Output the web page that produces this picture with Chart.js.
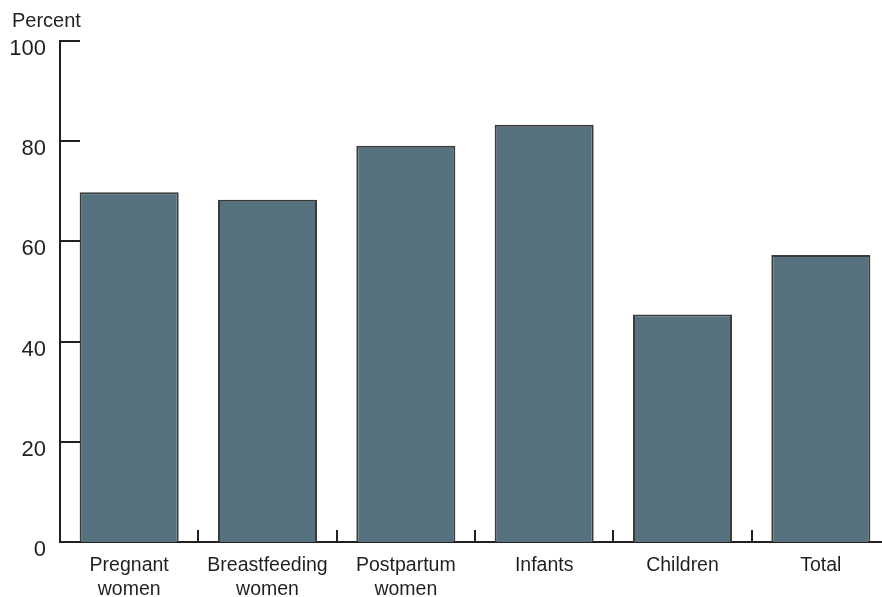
<!DOCTYPE html>
<html>
<head>
<meta charset="utf-8">
<script src="https://cdn.jsdelivr.net/npm/chart.js@4.4.1/dist/chart.umd.min.js"></script>
<style>
  html, body { margin: 0; padding: 0; background: #fff; overflow: hidden; }
  #wrap { width: 890px; height: 597px; }
</style>
</head>
<body>
<div id="wrap"><canvas id="chart"></canvas></div>
<script>
// data
const categories = [
  ['Pregnant', 'women'],
  ['Breastfeeding', 'women'],
  ['Postpartum', 'women'],
  ['Infants'],
  ['Children'],
  ['Total']
];
const percents = [69.8, 68.3, 79.1, 83.3, 45.4, 57.3];
const yTicks = [0, 20, 40, 60, 80, 100];

const inkColor = '#231f20';

// inward tick marks + "Percent" title
const axisExtras = {
  id: 'axisExtras',
  afterDraw(chart) {
    const { ctx, chartArea, scales } = chart;
    const x = scales.x, y = scales.y;
    ctx.save();
    ctx.strokeStyle = inkColor;
    ctx.lineWidth = 2;
    ctx.beginPath();
    yTicks.forEach(v => {
      const py = Math.round(y.getPixelForValue(v));
      ctx.moveTo(chartArea.left, py);
      ctx.lineTo(chartArea.left + 20, py);
    });
    const half = (x.getPixelForValue(1) - x.getPixelForValue(0)) / 2;
    for (let i = 0; i < categories.length - 1; i++) {
      const px = Math.round(x.getPixelForValue(i) + half);
      ctx.moveTo(px, chartArea.bottom);
      ctx.lineTo(px, chartArea.bottom - 12);
    }
    ctx.stroke();

    ctx.fillStyle = inkColor;
    ctx.font = '20px "Liberation Sans", Arial, sans-serif';
    ctx.textAlign = 'left';
    ctx.textBaseline = 'alphabetic';
    ctx.fillText('Percent', 12, 27);
    ctx.restore();
  }
};

new Chart(document.getElementById('chart'), {
  type: 'bar',
  data: {
    labels: categories,
    datasets: [{
      data: percents,
      backgroundColor: '#57727f',
      borderColor: '#393b3d',
      borderWidth: 2,
      borderSkipped: 'bottom',
      barPercentage: 0.716,
      categoryPercentage: 1
    }]
  },
  options: {
    responsive: true,
    maintainAspectRatio: false,
    animation: false,
    layout: { padding: { top: 41, right: 0, bottom: 0, left: 0 } },
    plugins: {
      legend: { display: false },
      tooltip: { enabled: false }
    },
    scales: {
      x: {
        grid: { display: false, drawTicks: false },
        border: { display: true, color: inkColor, width: 2 },
        ticks: {
          color: inkColor,
          padding: 11,
          maxRotation: 0,
          autoSkip: false,
          font: { family: '"Liberation Sans", Arial, sans-serif', size: 19.5, lineHeight: 1.25 }
        },
        afterFit(scale) { scale.height = 55; }
      },
      y: {
        min: 0,
        max: 100,
        afterBuildTicks(scale) { scale.ticks = yTicks.map(v => ({ value: v })); },
        grid: { display: false, drawTicks: false },
        border: { display: true, color: inkColor, width: 2 },
        ticks: {
          color: inkColor,
          padding: 14,
          labelOffset: 8,
          font: { family: '"Liberation Sans", Arial, sans-serif', size: 22 }
        },
        afterFit(scale) { scale.width = 60; }
      }
    }
  },
  plugins: [axisExtras]
});
</script>
</body>
</html>
